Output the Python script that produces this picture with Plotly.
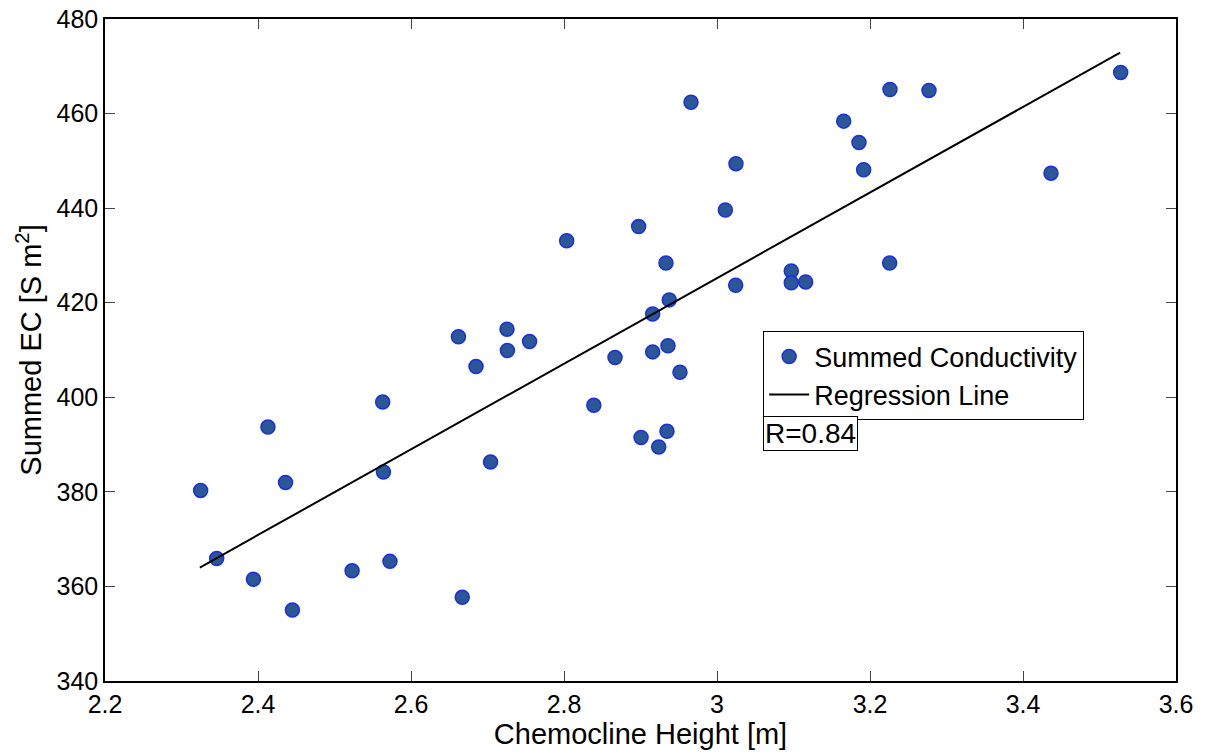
import plotly.graph_objects as go

# Data
chemocline_height = [
    2.325, 2.346, 2.394, 2.413, 2.436, 2.445, 2.523, 2.563, 2.564, 2.5725,
    2.667, 2.662, 2.685, 2.704, 2.726, 2.7255, 2.755, 2.8035, 2.839, 2.8667,
    2.8976, 2.9007, 2.9159, 2.9159, 2.9238, 2.9333, 2.9346, 2.9359, 2.9376, 2.9516,
    3.0244, 2.966, 3.0248, 3.0109, 3.1656, 3.1856, 3.1917, 3.2261, 3.2771, 3.2257,
    3.0971, 3.0971, 3.1159, 3.4366, 3.5277,
]
summed_ec = [
    380.3, 365.9, 361.5, 393.7, 382.0, 355.0, 363.3, 399.0, 384.2, 365.3,
    357.7, 412.8, 406.5, 386.3, 409.9, 414.4, 411.8, 433.1, 398.3, 408.4,
    436.1, 391.5, 409.6, 417.6, 389.5, 428.4, 392.8, 410.9, 420.6, 405.3,
    423.7, 462.4, 449.4, 439.6, 458.4, 453.9, 448.1, 465.1, 464.9, 428.4,
    426.7, 424.2, 424.4, 447.4, 468.7,
]
regression_x = [2.324, 3.527]
regression_y = [364.0, 472.9]

x_ticks = [2.2, 2.4, 2.6, 2.8, 3.0, 3.2, 3.4, 3.6]
x_tick_labels = ["2.2", "2.4", "2.6", "2.8", "3", "3.2", "3.4", "3.6"]
y_ticks = [340, 360, 380, 400, 420, 440, 460, 480]

FONT = "Arial, Liberation Sans, sans-serif"

fig = go.Figure()
fig.add_trace(go.Scatter(
    x=chemocline_height, y=summed_ec, mode="markers", name="Summed Conductivity",
    marker=dict(size=14, color="#2B5797", line=dict(color="#1A2EE8", width=1.5)),
))
fig.add_trace(go.Scatter(
    x=regression_x, y=regression_y, mode="lines", name="Regression Line",
    line=dict(color="black", width=2),
))

axis_common = dict(
    showgrid=False, zeroline=False, showline=True, linecolor="black", linewidth=1.5,
    mirror="ticks", ticks="inside", ticklen=10, tickcolor="#444444", tickwidth=1,
    tickfont=dict(family=FONT, size=25, color="black"), automargin=False,
    ticklabeloverflow="allow",
)

fig.update_xaxes(
    range=[2.2, 3.6], tickvals=x_ticks, ticktext=x_tick_labels,
    title=dict(text="Chemocline Height [m]", font=dict(family=FONT, size=29, color="black"), standoff=2),
    **axis_common,
)
fig.update_yaxes(
    range=[340, 480], tickvals=y_ticks,
    title=dict(text="Summed EC [S m<sup>2</sup>]", font=dict(family=FONT, size=29, color="black"), standoff=6),
    **axis_common,
)

fig.add_annotation(
    xref="paper", yref="paper", x=0.6145, y=0.400, xanchor="left", yanchor="top",
    text="R=0.84", showarrow=False, font=dict(family=FONT, size=28, color="black"),
    bordercolor="black", borderwidth=1, borderpad=1, bgcolor="white",
)

# page body adds an 8px offset, so the figure is 8px smaller and margins shifted
fig.update_layout(
    width=1197, height=746,
    margin=dict(l=97, r=29, t=11, b=73),
    paper_bgcolor="white", plot_bgcolor="white",
    showlegend=True,
    legend=dict(
        x=0.6145, y=0.528, xanchor="left", yanchor="top",
        font=dict(family=FONT, size=27, color="black"),
        bordercolor="black", borderwidth=1, bgcolor="white",
        tracegroupgap=0, itemwidth=40,
    ),
)

fig.write_html("out.html")
